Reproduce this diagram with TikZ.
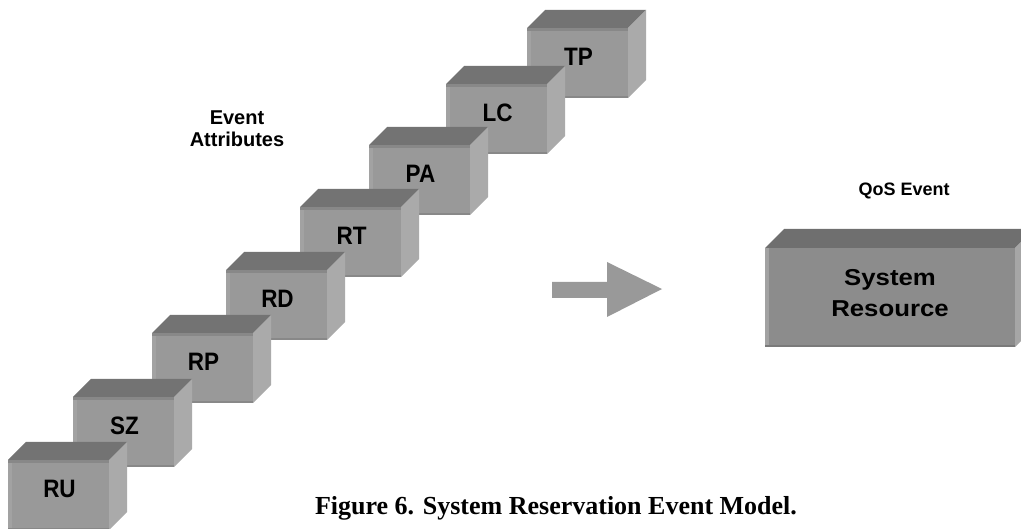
\documentclass[tikz,border=0pt]{standalone}
\usepackage{fontspec}
\setmainfont{Liberation Serif}
\newfontfamily\arialfont{Liberation Sans}
\usepackage{tikz}
\usetikzlibrary{calc,positioning}
\definecolor{boxfront}{HTML}{999999}
\definecolor{boxtop}{HTML}{737373}
\definecolor{boxside}{HTML}{AAAAAA}
\definecolor{boxlight}{HTML}{A2A2A2}
\definecolor{boxdark}{HTML}{888888}
\definecolor{bigfront}{HTML}{8C8C8C}
\definecolor{bigtop}{HTML}{6F6F6F}
\definecolor{bigside}{HTML}{A6A6A6}

\begin{document}
\begin{tikzpicture}[x=1pt,y=-1pt,
  boxlabel/.style={font=\arialfont\bfseries\fontsize{22.5}{24}\selectfont,yscale=1.12,transform shape},
  textlabel/.style={font=\arialfont\bfseries\fontsize{20}{22}\selectfont},
  qoslabel/.style={font=\arialfont\bfseries\fontsize{18}{22}\selectfont},
  biglabel/.style={font=\arialfont\bfseries\fontsize{23}{31}\selectfont,xscale=1.12,transform shape},
  captionlabel/.style={font=\bfseries\fontsize{26}{30}\selectfont}]
\useasboundingbox (0,0) rectangle (1021,529);
%Kistenmasse in Pixel
  \pgfmathsetmacro{\w}{101}
  \pgfmathsetmacro{\h}{70}
  \pgfmathsetmacro{\d}{18}
%von hinten nach vorne, damit RU ganz vorne liegt
\foreach \px/\py/\lab in {527/28/TP,446/84/LC,369/145/PA,300/207/RT,226/270/RD,152/333/RP,73/397/SZ,8/460/RU}{
\fill[boxtop] (\px,\py) -- ++(\d,-\d) -- ++(\w,0) -- ++(-\d,\d) -- cycle;
\fill[boxside] (\px+\w,\py) -- ++(\d,-\d) -- ++(0,\h) -- ++(-\d,\d) -- cycle;
\fill[boxfront] (\px,\py) rectangle ++(\w,\h);
\fill[boxlight] (\px,\py) rectangle ++(4,\h);
\fill[boxdark] (\px,\py) rectangle ++(\w,3);
\fill[boxdark] (\px,\py+\h-2) rectangle ++(\w,2);
\node[boxlabel] (\lab) at (\px+\w/2+1,\py+\h/2-6.5) {\lab};
}
%Pfeil
\fill[boxfront] (552,282) -- (607,282) -- (607,262) -- (662,289) -- (607,317) -- (607,298) -- (552,298) -- cycle;
%grosse Kiste
  \pgfmathsetmacro{\W}{250}
  \pgfmathsetmacro{\H}{99}
  \pgfmathsetmacro{\D}{19}
\fill[bigtop] (765,248) -- ++(\D,-\D) -- ++(\W,0) -- ++(-\D,\D) -- cycle;
\fill[bigside] (765+\W,248) -- ++(\D,-\D) -- ++(0,\H) -- ++(-\D,\D) -- cycle;
\fill[bigfront] (765,248) rectangle ++(\W,\H);
\fill[boxlight] (765,248) rectangle ++(4,\H);
\fill[boxdark!90!black] (765,248+\H-2) rectangle ++(\W,2);
\node[biglabel,align=center] (sysres) at (890,293.5) {System\\Resource};
%Texte
\node[textlabel,align=center] (attr) at (237,128.5) {Event\\Attributes};
\node[qoslabel,anchor=base west] (qos) at (855,196) {QoS Event};
\node[captionlabel,anchor=base] (caption) at (556,514) {Figure 6. System Reservation Event Model.};
\end{tikzpicture}
\end{document}
